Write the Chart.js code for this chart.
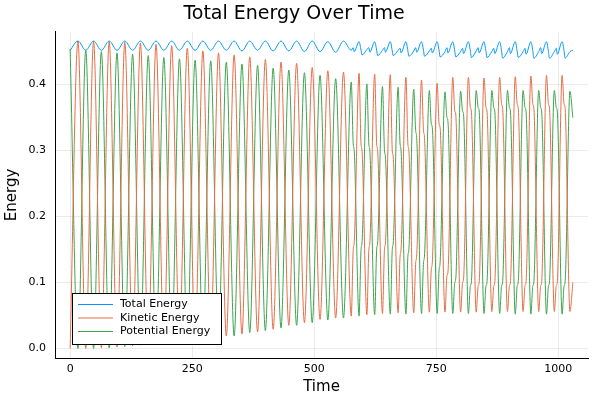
<!DOCTYPE html>
<html>
<head>
<meta charset="utf-8">
<script src="https://cdn.jsdelivr.net/npm/chart.js@4.4.1/dist/chart.umd.min.js"></script>
<style>
  html, body { margin: 0; padding: 0; background: #fff; }
</style>
</head>
<body>
<canvas id="chart-1" width="600" height="400"></canvas>
<script>
// sampled at the turning points of the oscillation (read off the plot),
// after t~576 also at the little shoulders on each edge
const times = [
  0, 16, 32, 48, 64, 80, 96, 112, 128, 144, 160, 176, 192, 208, 224, 240,
  256, 272, 288, 304, 320, 336, 352, 368, 384, 400, 416, 432, 448, 464, 480, 496,
  512, 528, 544, 560,
  576, 580, 582, 592, 596, 598, 608, 612, 614, 624, 628, 630,
  640, 644, 646, 656, 660, 662, 672, 676, 678, 688, 692, 694,
  704, 708, 710, 720, 724, 726, 736, 740, 742, 752, 756, 758,
  768, 772, 774, 784, 788, 790, 800, 804, 806, 816, 820, 822,
  832, 836, 838, 848, 852, 854, 864, 868, 870, 880, 884, 886,
  896, 900, 902, 912, 916, 918, 928, 932, 934, 944, 948, 950,
  960, 964, 966, 976, 980, 982, 992, 996, 998, 1008, 1012, 1014,
  1024, 1030
];
const kinetic = [
  0.000, 0.466, 0.000, 0.466, 0.001, 0.465, 0.002, 0.464, 0.004, 0.463, 0.006, 0.461, 0.008, 0.459, 0.011, 0.455,
  0.014, 0.451, 0.016, 0.448, 0.019, 0.445, 0.022, 0.442, 0.025, 0.438, 0.029, 0.434, 0.035, 0.432, 0.039, 0.426,
  0.044, 0.421, 0.046, 0.419,
  0.049, 0.150, 0.160, 0.417, 0.310, 0.300, 0.051, 0.150, 0.160, 0.416, 0.310, 0.300,
  0.053, 0.150, 0.160, 0.415, 0.300, 0.290, 0.054, 0.140, 0.150, 0.411, 0.310, 0.300,
  0.054, 0.130, 0.140, 0.407, 0.330, 0.320, 0.055, 0.120, 0.130, 0.402, 0.340, 0.335,
  0.055, 0.110, 0.115, 0.411, 0.360, 0.355, 0.055, 0.100, 0.105, 0.411, 0.365, 0.360,
  0.055, 0.095, 0.100, 0.410, 0.365, 0.360, 0.056, 0.095, 0.100, 0.411, 0.370, 0.365,
  0.056, 0.095, 0.100, 0.412, 0.370, 0.365, 0.056, 0.095, 0.100, 0.413, 0.370, 0.365,
  0.056, 0.095, 0.100, 0.414, 0.370, 0.365, 0.056, 0.095, 0.100, 0.414, 0.370, 0.365,
  0.056, 0.100
];
const potential = [
  0.454, 0.000, 0.452, 0.000, 0.450, 0.001, 0.448, 0.003, 0.446, 0.005, 0.444, 0.007, 0.441, 0.009, 0.439, 0.012,
  0.437, 0.015, 0.436, 0.017, 0.434, 0.019, 0.431, 0.024, 0.429, 0.027, 0.425, 0.031, 0.422, 0.035, 0.418, 0.039,
  0.414, 0.043, 0.409, 0.046,
  0.404, 0.310, 0.300, 0.049, 0.150, 0.160, 0.401, 0.310, 0.300, 0.051, 0.150, 0.160,
  0.397, 0.300, 0.290, 0.052, 0.150, 0.160, 0.396, 0.310, 0.300, 0.052, 0.140, 0.150,
  0.393, 0.330, 0.320, 0.053, 0.130, 0.140, 0.391, 0.340, 0.335, 0.053, 0.120, 0.130,
  0.389, 0.350, 0.345, 0.053, 0.100, 0.105, 0.390, 0.360, 0.355, 0.053, 0.095, 0.100,
  0.391, 0.365, 0.360, 0.053, 0.095, 0.100, 0.391, 0.365, 0.360, 0.053, 0.095, 0.100,
  0.391, 0.365, 0.360, 0.052, 0.095, 0.100, 0.391, 0.365, 0.360, 0.052, 0.095, 0.100,
  0.391, 0.365, 0.360, 0.052, 0.095, 0.100, 0.391, 0.365, 0.360, 0.052, 0.095, 0.100,
  0.390, 0.350
];
const total = [
  0.452, 0.466, 0.452, 0.466, 0.452, 0.466, 0.452, 0.466, 0.452, 0.466, 0.452, 0.466, 0.452, 0.466, 0.452, 0.466,
  0.452, 0.466, 0.452, 0.466, 0.452, 0.466, 0.451, 0.466, 0.452, 0.466, 0.451, 0.466, 0.451, 0.466, 0.450, 0.466,
  0.450, 0.465, 0.449, 0.466,
  0.452, 0.456, 0.450, 0.465, 0.452, 0.445, 0.453, 0.456, 0.449, 0.465, 0.452, 0.444,
  0.452, 0.456, 0.449, 0.465, 0.451, 0.444, 0.452, 0.455, 0.448, 0.465, 0.451, 0.443,
  0.451, 0.456, 0.449, 0.465, 0.452, 0.443, 0.451, 0.455, 0.448, 0.465, 0.451, 0.442,
  0.450, 0.456, 0.448, 0.465, 0.451, 0.442, 0.450, 0.455, 0.447, 0.465, 0.451, 0.441,
  0.451, 0.456, 0.448, 0.465, 0.450, 0.441, 0.450, 0.455, 0.447, 0.465, 0.451, 0.440,
  0.450, 0.456, 0.447, 0.465, 0.450, 0.441, 0.450, 0.455, 0.446, 0.465, 0.451, 0.440,
  0.450, 0.456, 0.447, 0.465, 0.450, 0.440, 0.450, 0.455, 0.446, 0.465, 0.451, 0.440,
  0.450, 0.452
];
const timeTicks = [0, 250, 500, 750, 1000];
const energyTicks = [0, 0.1, 0.2, 0.3, 0.4];

const fontName = "'DejaVu Sans', sans-serif";

function series(values) {
  return values.map((v, i) => ({ x: times[i], y: v }));
}

function lineSet(label, values, color) {
  return {
    label: label,
    data: series(values),
    borderColor: color,
    backgroundColor: color,
    borderWidth: 1,
    pointRadius: 0,
    cubicInterpolationMode: 'monotone'
  };
}

// legend box drawn inside the plot, bottom left
const boxLegend = {
  id: 'boxLegend',
  afterDraw(chart) {
    const ctx = chart.ctx;
    const x = 72.5, y = 293.5, w = 149, h = 51;
    ctx.save();
    ctx.fillStyle = '#fff';
    ctx.fillRect(x, y, w, h);
    ctx.strokeStyle = '#000';
    ctx.lineWidth = 1;
    ctx.strokeRect(x, y, w, h);
    ctx.font = '11px ' + fontName;
    ctx.textBaseline = 'middle';
    chart.data.datasets.forEach((ds, i) => {
      const ry = y + 11 + i * 13.5;
      ctx.strokeStyle = ds.borderColor;
      ctx.beginPath();
      ctx.moveTo(78, ry);
      ctx.lineTo(113, ry);
      ctx.stroke();
      ctx.fillStyle = '#000';
      ctx.fillText(ds.label, 120, ry);
    });
    ctx.restore();
  }
};

new Chart(document.getElementById('chart-1'), {
  type: 'line',
  data: {
    datasets: [
      lineSet('Total Energy', total, '#009AFA'),
      lineSet('Kinetic Energy', kinetic, '#E36F47'),
      lineSet('Potential Energy', potential, '#3EA44E')
    ]
  },
  plugins: [boxLegend],
  options: {
    responsive: false,
    animation: false,
    layout: { padding: { left: 0, right: 12, top: 0, bottom: 0 } },
    plugins: {
      legend: { display: false },
      tooltip: { enabled: false },
      title: {
        display: true,
        text: 'Total Energy Over Time',
        color: '#000',
        font: { family: fontName, size: 19, weight: 'normal' },
        padding: { top: 3, bottom: 6 }
      }
    },
    scales: {
      x: {
        type: 'linear',
        min: -31,
        max: 1061,
        afterBuildTicks: (s) => { s.ticks = timeTicks.map(v => ({ value: v })); },
        afterFit: (s) => { s.height = 42; },
        grid: { color: 'rgba(0,0,0,0.08)', drawTicks: false },
        border: { color: '#000', width: 1 },
        ticks: {
          color: '#000',
          padding: 5,
          font: { family: fontName, size: 11 },
          callback: (v) => String(v)
        },
        title: {
          display: true,
          text: 'Time',
          color: '#000',
          font: { family: fontName, size: 15 },
          padding: { top: 0, bottom: 4 }
        }
      },
      y: {
        type: 'linear',
        min: -0.0145,
        max: 0.48,
        afterBuildTicks: (s) => { s.ticks = energyTicks.map(v => ({ value: v })); },
        afterFit: (s) => { s.width = 55; },
        grid: { color: 'rgba(0,0,0,0.08)', drawTicks: false },
        border: { color: '#000', width: 1 },
        ticks: {
          color: '#000',
          padding: 9,
          font: { family: fontName, size: 11 },
          callback: (v) => v.toFixed(1)
        },
        title: {
          display: true,
          text: 'Energy',
          color: '#000',
          font: { family: fontName, size: 15 },
          padding: { top: 3, bottom: 0 }
        }
      }
    }
  }
});
</script>
</body>
</html>
